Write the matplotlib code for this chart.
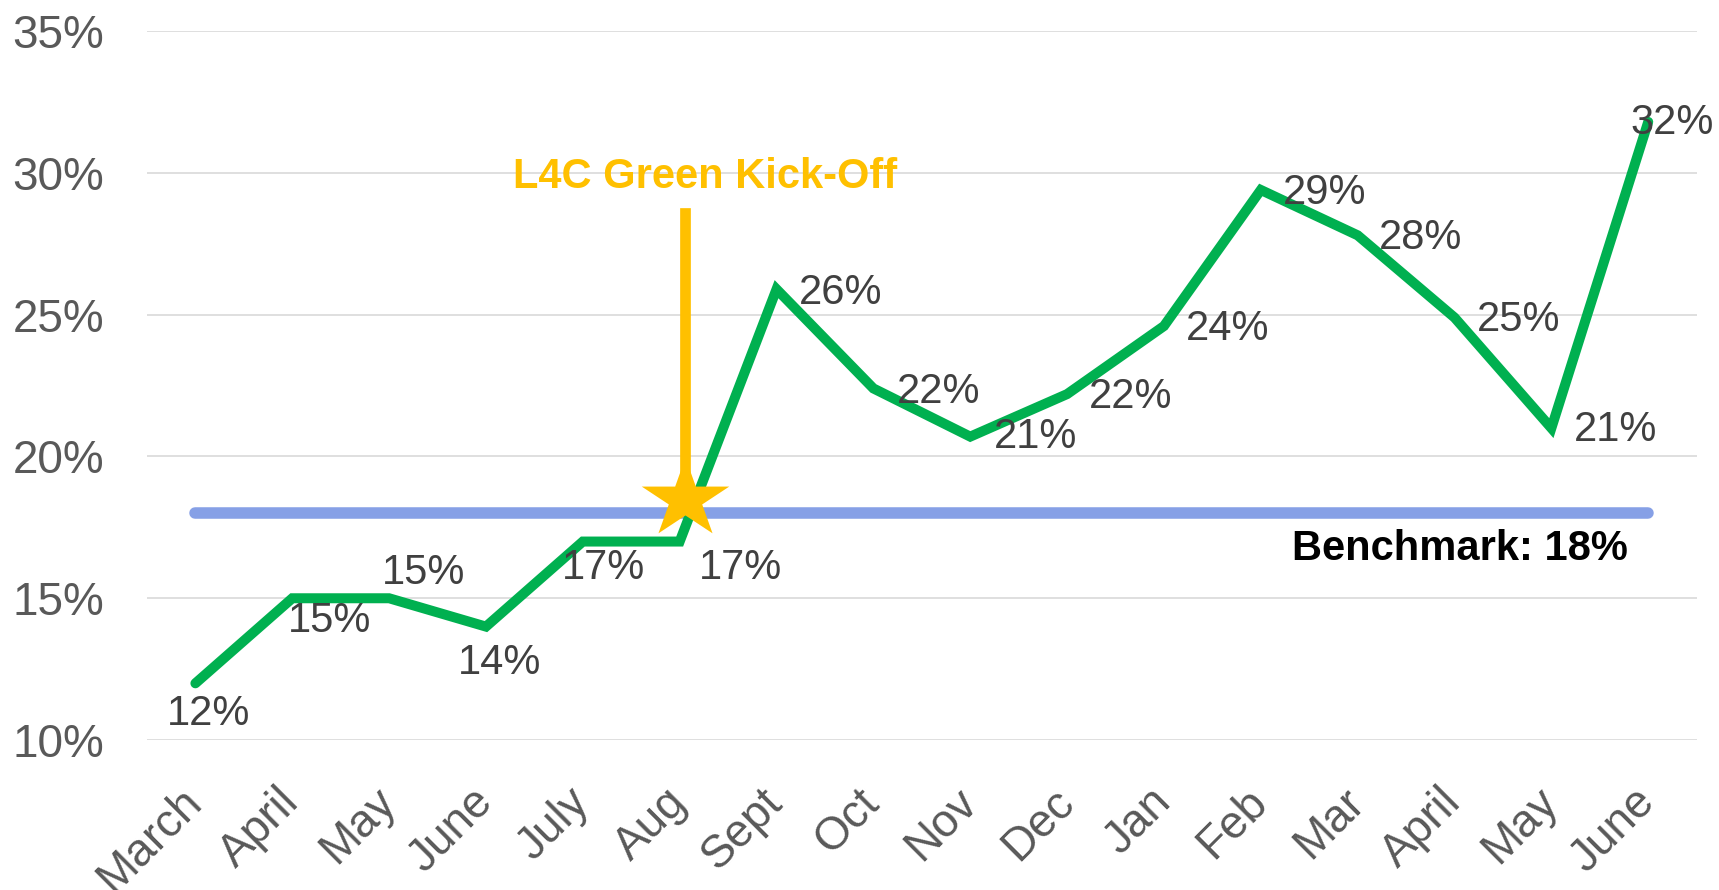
import numpy as np
import matplotlib.pyplot as plt
from matplotlib.path import Path

plt.rcParams['font.family'] = ['Liberation Sans', 'DejaVu Sans']

months = ["March", "April", "May", "June", "July", "Aug", "Sept", "Oct",
          "Nov", "Dec", "Jan", "Feb", "Mar", "April", "May", "June"]
rate = [12.0, 15.0, 15.0, 14.0, 17.0, 17.0, 25.9, 22.4,
        20.7, 22.2, 24.6, 29.4, 27.8, 24.9, 21.0, 31.8]
rate_labels = ["12%", "15%", "15%", "14%", "17%", "17%", "26%", "22%",
               "21%", "22%", "24%", "29%", "28%", "25%", "21%", "32%"]
benchmark = 18.0
kickoff_x = 5.05
kickoff_top = 28.6
kickoff_star = 18.5
y_ticks = [10, 15, 20, 25, 30, 35]

# label offsets in pixels (dx, dy) relative to each point
label_off = [(13, -31), (37, -23), (34, 25), (14, -36), (21, -26), (61, -26),
             (64, -4), (65, -4), (65, 0), (64, -3), (64, -3), (64, -3),
             (63, -3), (64, -2), (64, -2), (24, -1)]

# a slightly wide five-pointed star marker
ang = np.pi / 2 + np.arange(10) * np.pi / 5
rad = np.where(np.arange(10) % 2 == 0, 1.0, 0.382)
star_verts = np.column_stack([1.1 * rad * np.cos(ang), rad * np.sin(ang)])
star_verts = np.vstack([star_verts, star_verts[:1]])
star = Path(star_verts, closed=True)

fig = plt.figure(figsize=(17.19, 8.9), dpi=100)
ax = fig.add_axes([0.0855, 0.1685, 0.9015, 0.7965])

x = list(range(len(months)))

ax.plot([x[0], x[-1]], [benchmark, benchmark], color="#86A0E6", lw=8.3,
        solid_capstyle="round", zorder=2)
ax.plot(x, rate, color="#00B050", lw=7.2, solid_capstyle="round",
        solid_joinstyle="miter", zorder=3)
ax.plot([kickoff_x, kickoff_x], [kickoff_star, kickoff_top], color="#FFC000",
        lw=7.7, zorder=4)
ax.plot([kickoff_x], [kickoff_star], marker=star, ms=63, color="#FFC000",
        markeredgewidth=0, zorder=5)

for xi, yi, lab, off in zip(x, rate, rate_labels, label_off):
    ax.annotate(lab, (xi, yi), xytext=off, textcoords="offset pixels",
                ha="center", va="center", fontsize=30, color="#404040", zorder=6)

ax.text(5.26, 29.87, "L4C Green Kick-Off", ha="center", va="center",
        fontsize=30, fontweight="bold", color="#FFC000")
ax.text(14.79, 16.72, "Benchmark: 18%", ha="right", va="center",
        fontsize=30, fontweight="bold", color="black")

ax.set_xlim(-0.5, len(months) - 0.5)
ax.set_ylim(10, 35)
ax.set_yticks(y_ticks)
ax.set_yticklabels([f"{t}%" for t in y_ticks])
ax.set_xticks(x)
ax.set_xticklabels(months, rotation=45, ha="right", va="center",
                   rotation_mode="anchor")
ax.tick_params(axis="y", length=0, pad=31, labelsize=33, labelcolor="#595959")
ax.tick_params(axis="x", length=0, pad=40, labelsize=33, labelcolor="#595959")
ax.grid(axis="y", color="#D9D9D9", lw=1.2, zorder=0)
ax.set_axisbelow(True)
for s in ax.spines.values():
    s.set_visible(False)

fig.savefig("out.png", dpi=100)
